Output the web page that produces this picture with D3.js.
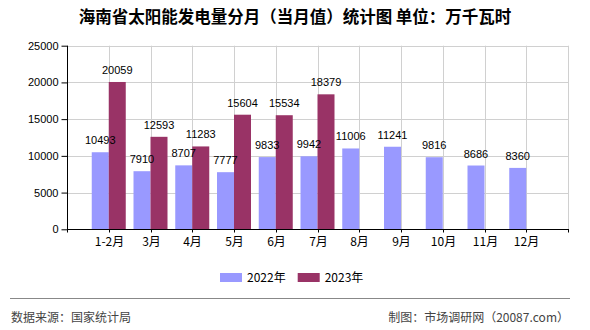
<!DOCTYPE html>
<html><head><meta charset="utf-8">
<script src="https://cdn.jsdelivr.net/npm/d3@7"></script>
<style>
html,body{margin:0;padding:0;background:#fff;}
svg{display:block;}
</style></head>
<body>
<svg id="c" width="590" height="330"></svg>
<script>
const categories = ["1-2月","3月","4月","5月","6月","7月","8月","9月","10月","11月","12月"];
const values2022 = [10493,7910,8707,7777,9833,9942,11006,11241,9816,8686,8360];
const values2023 = [20059,12593,11283,15604,15534,18379];
const yTicks = [0,5000,10000,15000,20000,25000];
const seriesNames = ["2022年","2023年"];
const colors = ["#9999FF","#993366"];
const titleText = "海南省太阳能发电量分月（当月值）统计图 单位：万千瓦时";
const sourceText = "数据来源：国家统计局";
const creditText = "制图：市场调研网（20087.com）";

const svg = d3.select("#c");
const L = 67, R = 568, T = 45.7, B = 229.3;
const step = (R - L) / 12;
const x = d3.scalePoint().domain(categories).range([L + step, R - step]);
const y = d3.scaleLinear().domain([0, 25000]).range([B, T]);
const bw = 17;
const numFont = "'Liberation Sans', Arial, sans-serif";
const cjkFont = "'Noto Sans CJK SC', sans-serif";

// grid
const g = svg.append("g");
g.selectAll("line.h").data(yTicks.slice(1)).join("line")
  .attr("x1", L).attr("x2", R).attr("y1", d => Math.round(y(d)) + 0.5).attr("y2", d => Math.round(y(d)) + 0.5)
  .attr("stroke", "#d0d0d0");
g.selectAll("line.v").data(categories).join("line")
  .attr("x1", d => Math.round(x(d)) + 0.5).attr("x2", d => Math.round(x(d)) + 0.5)
  .attr("y1", T).attr("y2", B).attr("stroke", "#d0d0d0");
g.append("line").attr("x1", R + 0.5).attr("x2", R + 0.5).attr("y1", T).attr("y2", B).attr("stroke", "#d0d0d0");

// bars
const bars2022 = values2022.map((v, i) => ({c: categories[i], v}));
const bars2023 = values2023.map((v, i) => ({c: categories[i], v}));
svg.append("g").selectAll("rect").data(bars2022).join("rect")
  .attr("x", d => x(d.c) - bw).attr("width", bw)
  .attr("y", d => y(d.v)).attr("height", d => B - y(d.v)).attr("fill", colors[0]);
svg.append("g").selectAll("rect").data(bars2023).join("rect")
  .attr("x", d => x(d.c)).attr("width", bw)
  .attr("y", d => y(d.v)).attr("height", d => B - y(d.v)).attr("fill", colors[1]);

// labels
svg.append("g").selectAll("text").data(bars2022).join("text")
  .attr("x", d => x(d.c) - bw / 2).attr("y", d => y(d.v) - 8)
  .attr("text-anchor", "middle").attr("font-family", numFont).attr("font-size", 11).attr("fill", "#000")
  .text(d => d.v);
svg.append("g").selectAll("text").data(bars2023).join("text")
  .attr("x", d => x(d.c) + bw / 2).attr("y", d => y(d.v) - 8)
  .attr("text-anchor", "middle").attr("font-family", numFont).attr("font-size", 11).attr("fill", "#000")
  .text(d => d.v);

// y axis
const ya = svg.append("g").attr("transform", `translate(${L + 0.5},0)`)
  .call(d3.axisLeft(y).tickValues(yTicks).tickSize(6).tickPadding(3).tickFormat(d3.format("d")));
ya.selectAll("text").attr("font-family", numFont).attr("font-size", 11).attr("fill", "#000");
ya.selectAll("line,path").attr("stroke", "#000");
ya.select(".domain").attr("d", `M0,${T}V${B}`);

// x axis
const xa = svg.append("g").attr("transform", `translate(0,${Math.round(B) + 0.5})`)
  .call(d3.axisBottom(x).tickSize(3).tickPadding(5).tickSizeOuter(0));
xa.selectAll("text").attr("font-family", cjkFont).attr("font-size", 12).attr("fill", "#000");
xa.selectAll("line,path").attr("stroke", "#000");
xa.select(".domain").attr("d", `M${L},0H${R + 1}`);
xa.selectAll(".tick").attr("transform", d => `translate(${Math.round(x(d)) + 0.5},0)`);
[L + 0.5, R + 0.5].forEach(px => xa.append("line").attr("x1", px).attr("x2", px).attr("y1", 0).attr("y2", 3).attr("stroke", "#000"));

// title
svg.append("text").attr("x", 295).attr("y", 23).attr("text-anchor", "middle")
  .attr("font-family", cjkFont).attr("font-size", 16.5).attr("font-weight", "bold").attr("fill", "#000")
  .text(titleText);

// legend
const lg = svg.append("g");
seriesNames.forEach((n, i) => {
  const lx = 220 + i * 77.7;
  lg.append("rect").attr("x", lx).attr("y", 273).attr("width", 22).attr("height", 9).attr("fill", colors[i]);
  lg.append("text").attr("x", lx + 27).attr("y", 282).attr("font-family", cjkFont).attr("font-size", 12)
    .attr("fill", "#000").text(n);
});

// footer
svg.append("line").attr("x1", 10).attr("x2", 570).attr("y1", 298.5).attr("y2", 298.5).attr("stroke", "#888").attr("stroke-width", 1.2);
svg.append("text").attr("x", 11).attr("y", 321.5).attr("font-family", cjkFont).attr("font-size", 12).attr("fill", "#444").text(sourceText);
svg.append("text").attr("x", 569).attr("y", 321.5).attr("text-anchor", "end").attr("font-family", cjkFont).attr("font-size", 12).attr("fill", "#444").text(creditText);
</script>
</body></html>
